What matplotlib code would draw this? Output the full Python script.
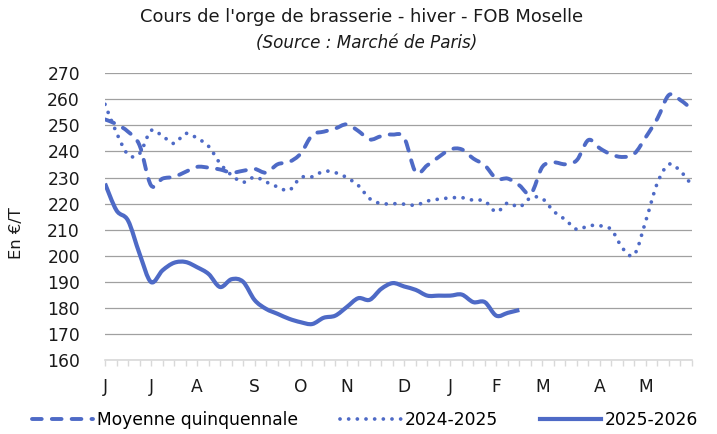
import matplotlib
matplotlib.use("Agg")
import matplotlib.pyplot as plt
from matplotlib.lines import Line2D
from matplotlib.path import Path
from matplotlib.patches import PathPatch

plt.rcParams['font.family'] = ['DejaVu Sans']

# Weekly categories (52 weeks, June -> May); labels on first week of each month
month_pos = [0, 4, 8, 13, 17, 21, 26, 30, 34, 38, 43, 47]
month_labels = ["J", "J", "A", "S", "O", "N", "D", "J", "F", "M", "A", "M"]
n_weeks = 52

moyenne = [252.3, 250.5, 247.6, 242.4, 227.0, 229.6, 230.3, 232.2, 234.1, 233.8,
           233.1, 231.9, 232.6, 233.3, 231.9, 235.1, 236.0, 239.2, 246.3, 247.6,
           248.8, 250.4, 247.9, 244.6, 245.9, 246.5, 245.2, 232.0, 234.7, 237.9,
           240.8, 240.8, 237.3, 234.7, 229.6, 229.6, 227.0, 223.8, 234.1, 235.8,
           235.1, 236.7, 244.4, 241.2, 238.8, 237.9, 239.2, 245.6, 252.7, 261.7,
           259.7, 256.2]

y2024 = [258.1, 247.2, 238.8, 239.2, 248.0, 245.9, 243.1, 246.9, 245.1, 242.0,
         235.4, 230.9, 228.2, 230.2, 228.3, 226.4, 225.1, 230.0, 230.3, 232.4,
         231.9, 230.0, 227.0, 221.9, 220.0, 220.0, 219.8, 219.4, 221.0, 221.7,
         222.2, 222.3, 221.3, 221.0, 216.8, 220.3, 218.7, 222.3, 221.9, 217.0,
         213.8, 210.1, 211.5, 211.5, 210.0, 202.7, 200.5, 213.6, 228.0, 235.1,
         232.4, 227.0]

y2025 = [227.7, 217.4, 213.5, 200.8, 189.9, 194.4, 197.3, 197.6, 195.6, 193.0,
         188.0, 191.0, 190.0, 183.0, 179.6, 177.7, 175.8, 174.5, 173.8, 176.2,
         177.0, 180.3, 183.7, 183.1, 187.3, 189.5, 188.2, 186.9, 184.7, 184.7,
         184.7, 185.1, 182.2, 182.2, 177.0, 178.1, 179.2]

series_names = ["Moyenne quinquennale", "2024-2025", "2025-2026"]

color = "#4E6AC6"
text_color = "#1a1a1a"
dash_style = (0, (2.5, 2.6))
dot_style = (0, (0.01, 2.3))
fs = 12.3


def smooth_path(ys):
    """Excel-like smoothed line: cubic Bezier segments through the data points."""
    xs = list(range(len(ys)))
    pts = list(zip(xs, ys))
    verts = [pts[0]]
    codes = [Path.MOVETO]
    n = len(pts)
    for i in range(n - 1):
        p0 = pts[i - 1] if i > 0 else pts[i]
        p1 = pts[i]
        p2 = pts[i + 1]
        p3 = pts[i + 2] if i + 2 < n else pts[i + 1]
        c1 = (p1[0] + (p2[0] - p0[0]) / 6, p1[1] + (p2[1] - p0[1]) / 6)
        c2 = (p2[0] - (p3[0] - p1[0]) / 6, p2[1] - (p3[1] - p1[1]) / 6)
        verts += [c1, c2, p2]
        codes += [Path.CURVE4] * 3
    return Path(verts, codes)


fig = plt.figure(figsize=(7.17, 4.34), dpi=100)
ax = fig.add_axes([105 / 717, 1 - 360 / 434, (692 - 105) / 717, (360 - 73.3) / 434])

ax.add_patch(PathPatch(smooth_path(moyenne), fill=False, edgecolor=color, lw=2.8,
                       linestyle=dash_style, capstyle='round', joinstyle='round', zorder=3))
ax.add_patch(PathPatch(smooth_path(y2024), fill=False, edgecolor=color, lw=2.7,
                       linestyle=dot_style, capstyle='round', joinstyle='round', zorder=3))
ax.add_patch(PathPatch(smooth_path(y2025), fill=False, edgecolor=color, lw=3.0,
                       linestyle='-', capstyle='butt', joinstyle='round', zorder=3))

ax.set_xlim(0, n_weeks - 1)
ax.set_ylim(160, 270)
ax.set_yticks(range(160, 271, 10))
ax.grid(axis='y', color='#A0A0A0', lw=0.9)
ax.set_axisbelow(True)

ax.set_xticks(range(n_weeks))
labels = [""] * n_weeks
for p, l in zip(month_pos, month_labels):
    labels[p] = l
ax.set_xticklabels(labels)

for s in ['top', 'right', 'left']:
    ax.spines[s].set_visible(False)
ax.spines['bottom'].set_color('#D9D9D9')
ax.spines['bottom'].set_linewidth(1.2)
ax.tick_params(axis='x', length=4, width=1, color='#D9D9D9', pad=9,
               labelsize=fs, labelcolor=text_color)
ax.tick_params(axis='y', length=0, pad=18, labelsize=fs, labelcolor=text_color)

fig.text(17 / 717, 1 - 233 / 434, "En €/T", rotation=90, ha='center', va='center',
         fontsize=11.8, color=text_color)

fig.text(0.504, 1 - 17 / 434, "Cours de l'orge de brasserie - hiver - FOB Moselle",
         ha='center', va='center', fontsize=12.9, color=text_color)
fig.text(0.511, 1 - 43 / 434, "(Source : Marché de Paris)", ha='center', va='center',
         fontsize=12.1, style='italic', color=text_color)

handles = [
    Line2D([], [], color=color, lw=2.8, linestyle=dash_style, dash_capstyle='round'),
    Line2D([], [], color=color, lw=2.7, linestyle=dot_style, dash_capstyle='round'),
    Line2D([], [], color=color, lw=3.0, linestyle='-'),
]
fig.legend(handles, series_names, loc='center', bbox_to_anchor=(0.509, 1 - 420 / 434),
           ncol=3, frameon=False, fontsize=fs, handlelength=3.6, handletextpad=0.2,
           columnspacing=2.45, borderaxespad=0, borderpad=0)

fig.savefig("out.png", dpi=100)
